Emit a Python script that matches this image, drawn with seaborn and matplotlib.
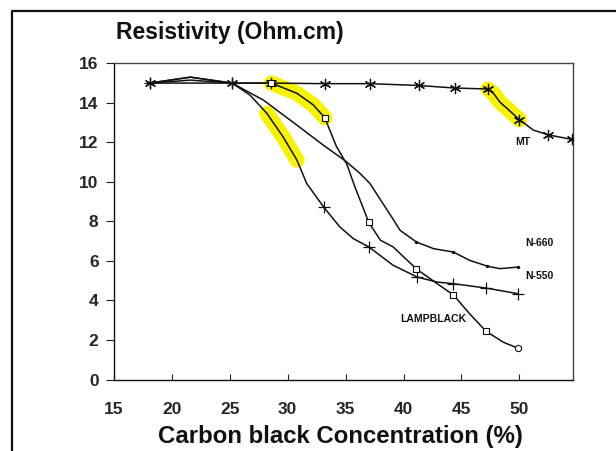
import matplotlib
matplotlib.use("Agg")
import matplotlib.pyplot as plt
import matplotlib.lines as mlines
import numpy as np
import pandas as pd
import seaborn as sns

# ---------------- data ----------------
# MT (asterisk markers)
mt_x = [18.1, 25.2, 28.6, 33.2, 37.1, 41.3, 44.4, 47.3, 50.0, 52.5, 54.5]
mt_y = [15.0, 15.0, 15.0, 14.97, 14.97, 14.88, 14.75, 14.7, 13.15, 12.38, 12.15]
mt_path_x = [18.1, 25.2, 28.6, 33.2, 37.1, 41.3, 44.4, 47.3, 47.8, 48.3, 50.0, 51.2, 52.5, 54.5]
mt_path_y = [15.0, 15.0, 15.0, 14.97, 14.97, 14.88, 14.75, 14.7, 14.45, 14.05, 13.15, 12.62, 12.38, 12.15]

# LAMPBLACK (open squares, last point open circle)
lb_x = [28.6, 33.2, 37.0, 41.1, 44.3, 47.1]
lb_y = [15.0, 13.25, 7.95, 5.6, 4.28, 2.45]
lb_last_x = [49.9]
lb_last_y = [1.58]
lb_path_x = [18.1, 21.6, 25.2, 28.6, 30.8, 32.2, 33.2, 34.2, 35.1, 35.8, 37.0, 38.0,
             39.1, 41.1, 42.9, 44.3, 45.7, 47.1, 48.6, 49.9]
lb_path_y = [15.0, 15.15, 15.0, 15.0, 14.48, 13.9, 13.25, 11.8, 10.9, 9.75, 7.95, 7.05,
             6.71, 5.6, 4.85, 4.28, 3.33, 2.45, 1.89, 1.58]

# N-550 (plus markers)
n550_x = [18.1, 25.2, 33.1, 37.0, 41.2, 44.3, 47.1, 49.9]
n550_y = [15.0, 15.0, 8.73, 6.71, 5.18, 4.85, 4.63, 4.34]
n550_path_x = [18.1, 21.6, 25.2, 26.75, 28.2, 29.6, 30.8, 31.64, 33.1, 34.5, 35.66, 37.0,
               39.1, 41.2, 42.9, 44.3, 47.1, 49.9]
n550_path_y = [15.0, 15.3, 15.0, 14.39, 13.47, 12.28, 11.1, 9.92, 8.73, 7.72, 7.13, 6.71,
               5.78, 5.18, 4.93, 4.85, 4.63, 4.34]

# N-660 (small dots)
n660_x = [41.1, 44.3, 47.2, 49.9]
n660_y = [6.96, 6.45, 5.74, 5.69]
n660_path_x = [18.1, 21.6, 25.2, 27.9, 30.8, 33.07, 35.0, 36.2, 37.1, 38.0, 39.0, 39.7,
               41.1, 42.6, 44.3, 45.7, 47.2, 48.3, 49.9]
n660_path_y = [15.0, 15.3, 15.0, 14.14, 12.87, 11.86, 11.05, 10.45, 9.92, 9.1, 8.2, 7.55,
               6.96, 6.62, 6.45, 6.03, 5.74, 5.61, 5.69]

# curve labels
label_text = ["MT", "N-660", "N-550", "LAMPBLACK"]
label_x = [50.3, 51.7, 51.7, 42.6]
label_y = [12.0, 6.9, 5.22, 3.04]

# highlighter marks (x-ranges along curves)
hl_ranges = {"N-550": (28.0, 30.9), "LAMPBLACK": (28.6, 33.3), "MT": (47.2, 50.1)}

x_ticks = [15, 20, 25, 30, 35, 40, 45, 50]
y_ticks = [0, 2, 4, 6, 8, 10, 12, 14, 16]

# ---------------- styling ----------------
sns.set_style("ticks")
plt.rcParams["font.family"] = ["Liberation Sans", "DejaVu Sans"]
plt.rcParams["font.weight"] = "bold"

fig = plt.figure(figsize=(6.16, 4.51), dpi=100)
fig.patch.set_facecolor("white")
ax = fig.add_axes([0.1849, 0.1585, 0.7458, 0.7011])

paths = {
    "MT": (mt_path_x, mt_path_y),
    "LAMPBLACK": (lb_path_x, lb_path_y),
    "N-550": (n550_path_x, n550_path_y),
    "N-660": (n660_path_x, n660_path_y),
}
frames = []
for name, (px, py) in paths.items():
    frames.append(pd.DataFrame({"x": px, "y": py, "series": name}))
path_df = pd.concat(frames, ignore_index=True)

# yellow highlighter strokes
for name, (lo, hi) in hl_ranges.items():
    sub = path_df[(path_df.series == name) & (path_df.x >= lo) & (path_df.x <= hi)]
    sns.lineplot(data=sub, x="x", y="y", sort=False, estimator=None, color="#f6f200",
                 lw=11, solid_capstyle="round", ax=ax, legend=False, zorder=1)

sns.lineplot(data=path_df, x="x", y="y", hue="series", units="series",
             palette={k: "#111111" for k in paths}, sort=False, estimator=None,
             lw=1.1, ax=ax, legend=False, zorder=2, solid_joinstyle="round")

# markers
sns.scatterplot(x=mt_x, y=mt_y, marker=(6, 2, 0), s=55, color="#111111", linewidth=0.9, ax=ax, zorder=3)
sns.scatterplot(x=n550_x, y=n550_y, marker="+", s=85, color="#111111", linewidth=0.9, ax=ax, zorder=3)
sns.scatterplot(x=lb_x, y=lb_y, marker="s", s=16, facecolor="white", edgecolor="#111111",
                linewidth=0.8, ax=ax, zorder=4)
sns.scatterplot(x=lb_last_x, y=lb_last_y, marker="o", s=20, facecolor="white", edgecolor="#111111",
                linewidth=0.8, ax=ax, zorder=4)
sns.scatterplot(x=n660_x, y=n660_y, marker="o", s=6, color="#111111", linewidth=0, ax=ax, zorder=3)

for t, lx, ly in zip(label_text, label_x, label_y):
    ax.text(lx, ly, t, ha="center", va="center", fontsize=7.5, fontweight="bold", color="#111111")

ax.set_xlim(15, 54.65)
ax.set_ylim(0, 16)
ax.set_xticks(x_ticks)
ax.set_yticks(y_ticks)
ax.set_xlabel("")
ax.set_ylabel("")
ax.tick_params(axis="y", direction="out", length=6, width=0.8, pad=5, labelsize=12.5, color="#222222")
ax.tick_params(axis="x", direction="in", length=4, width=0.8, pad=16, labelsize=12.5, color="#222222")
for lab in ax.get_xticklabels() + ax.get_yticklabels():
    lab.set_fontweight("bold")
for side in ["left", "bottom"]:
    ax.spines[side].set_color("#111111")
    ax.spines[side].set_linewidth(1.0)
for side in ["top", "right"]:
    ax.spines[side].set_color("#444444")
    ax.spines[side].set_linewidth(1.0)

fig.text(116 / 616, 1 - 33 / 451, "Resistivity (Ohm.cm)", ha="left", va="center",
         fontsize=16.5, fontweight="bold", color="#111111")
fig.text(340 / 616, 1 - 437 / 451, "Carbon black Concentration (%)", ha="center", va="center",
         fontsize=17.3, fontweight="bold", color="#111111")

# outer scan frame
fig.add_artist(mlines.Line2D([12 / 616, 12 / 616, 1.0], [0.0, 1 - 11 / 451, 1 - 11 / 451],
                             transform=fig.transFigure, color="#111111", lw=1.6))

fig.savefig("out.png", dpi=100, facecolor="white")
